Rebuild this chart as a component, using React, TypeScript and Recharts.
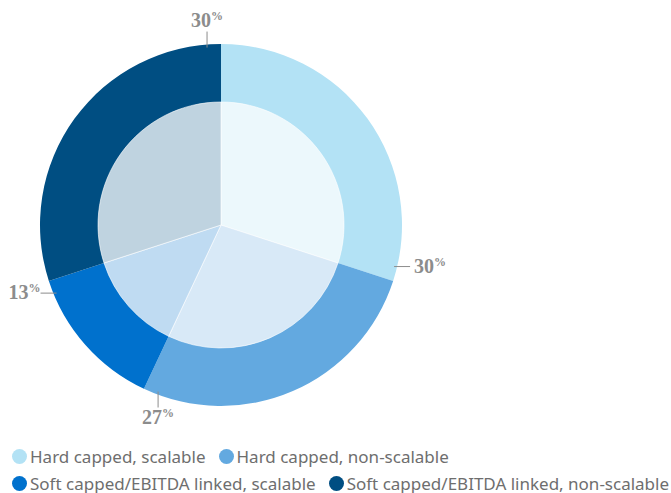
import { PieChart, Pie, Cell, Legend } from "recharts";

const categories = [
  "Hard capped, scalable",
  "Hard capped, non-scalable",
  "Soft capped/EBITDA linked, scalable",
  "Soft capped/EBITDA linked, non-scalable",
];
const shares = [30, 27, 13, 30];
const colors = ["#b3e2f5", "#63a9e0", "#0071cd", "#004e82"];

const data = categories.map((name, i) => ({ name, value: shares[i] }));

const RAD = Math.PI / 180;

// labels sit just before the end of each slice, with axis-aligned leader lines
function renderLabel(props: any) {
  const { cx, cy, outerRadius, endAngle, value } = props;
  const a = endAngle + 4.5;
  const c = Math.cos(-a * RAD);
  const s = Math.sin(-a * RAD);
  const x1 = cx + c * (outerRadius - 3);
  const y1 = cy + s * (outerRadius - 3);
  const horizontal = Math.abs(c) > Math.abs(s);
  const len = 16;
  let x2 = x1;
  let y2 = y1;
  let tx = x1;
  let ty = y1;
  let anchor: "start" | "end" | "middle" = "middle";
  if (horizontal) {
    x2 = x1 + (c > 0 ? len : -len);
    tx = x2 + (c > 0 ? 4 : 0);
    ty = y1 + 6;
    anchor = c > 0 ? "start" : "end";
  } else {
    y2 = y1 + (s > 0 ? len : -len);
    ty = s > 0 ? y2 + 16 : y2 - 5;
  }
  return (
    <g>
      <line x1={x1} y1={y1} x2={x2} y2={y2} stroke="#8c8c8c" strokeWidth={1} />
      <text
        x={tx}
        y={ty}
        textAnchor={anchor}
        fill="#8c8c8c"
        fontFamily="Liberation Serif, serif"
        fontWeight="bold"
        fontSize={20}
      >
        <tspan>{value}</tspan>
        <tspan fontSize={12} dy={-7}>%</tspan>
      </text>
    </g>
  );
}

function LegendContent() {
  return (
    <div
      style={{
        display: "flex",
        flexWrap: "wrap",
        fontFamily: "Noto Sans, sans-serif",
        fontSize: 17,
        color: "#6e6e6e",
        rowGap: 5,
        columnGap: 13,
      }}
    >
      {categories.map((name, i) => (
        <div
          key={name}
          style={{ display: "flex", alignItems: "center", height: 22, whiteSpace: "nowrap" }}
        >
          <span
            style={{
              width: 15,
              height: 15,
              borderRadius: "50%",
              background: colors[i],
              marginRight: 3,
              display: "inline-block",
            }}
          />
          <span>{name}</span>
        </div>
      ))}
    </div>
  );
}

export default function App() {
  return (
    <div style={{ width: 671, height: 493 }}>
      <style>{`body{margin:0}`}</style>
      <PieChart width={671} height={493} margin={{ top: 0, right: 0, bottom: 0, left: 0 }}>
        <Pie
          data={data}
          dataKey="value"
          cx={221}
          cy={225}
          innerRadius={123}
          outerRadius={181}
          startAngle={90}
          endAngle={-270}
          stroke="none"
          label={renderLabel}
          labelLine={false}
          isAnimationActive={false}
        >
          {data.map((d, i) => (
            <Cell key={d.name} fill={colors[i]} />
          ))}
        </Pie>
        <Pie
          data={data}
          dataKey="value"
          cx={221}
          cy={225}
          innerRadius={0}
          outerRadius={123}
          startAngle={90}
          endAngle={-270}
          stroke="#ffffff"
          strokeWidth={0.6}
          isAnimationActive={false}
        >
          {data.map((d, i) => (
            <Cell key={d.name} fill={colors[i]} fillOpacity={0.25} />
          ))}
        </Pie>
        <Legend
          content={<LegendContent />}
          wrapperStyle={{ position: "absolute", left: 12, top: 445, width: 659 }}
        />
      </PieChart>
    </div>
  );
}
